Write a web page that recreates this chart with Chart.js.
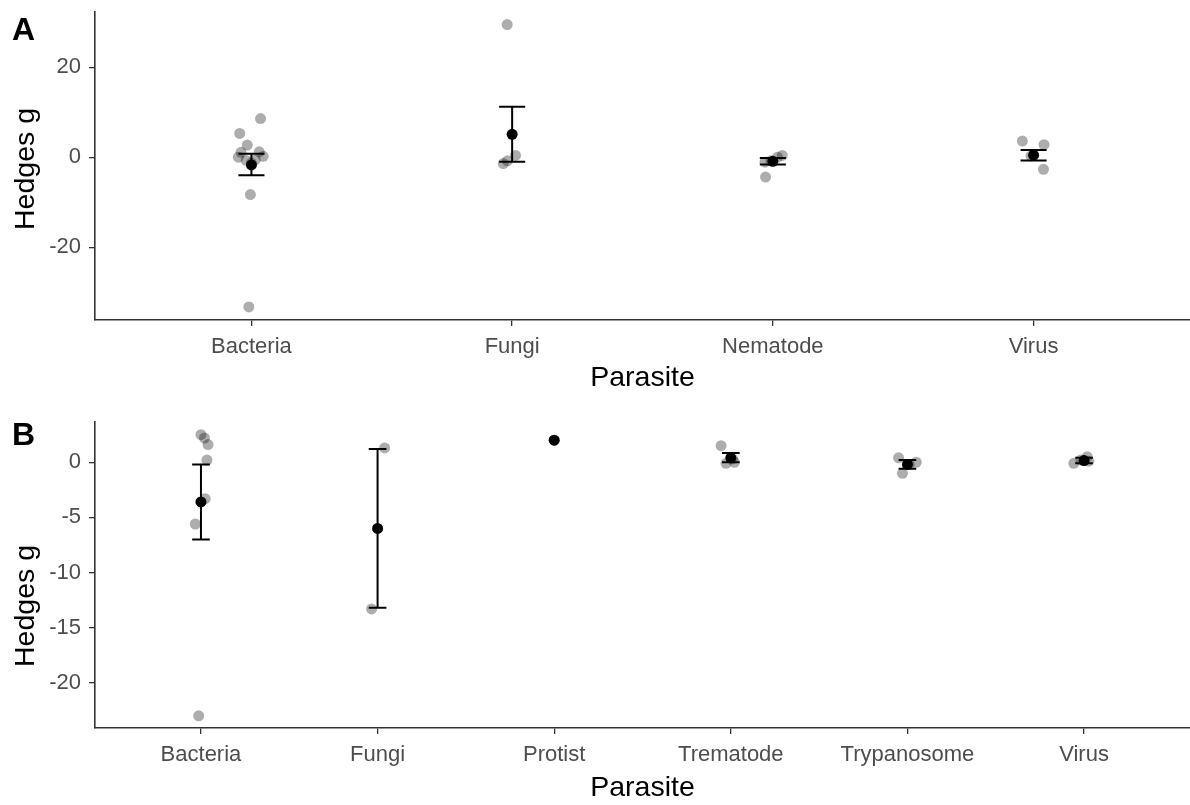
<!DOCTYPE html>
<html>
<head>
<meta charset="utf-8">
<script src="https://cdn.jsdelivr.net/npm/chart.js@4.4.1/dist/chart.umd.min.js"></script>
<style>
  html, body { margin: 0; padding: 0; background: #fff; }
  #wrap { position: relative; width: 1190px; height: 805px; }
  .panel { position: absolute; left: 0; width: 1190px; }
  .tag { position: absolute; left: 12px; font: bold 32px "Liberation Sans", Arial, sans-serif; line-height: 1; color: #000; }
</style>
</head>
<body>
<div id="wrap">
  <div class="panel" style="top:0;height:400px"><canvas id="chartA" width="1190" height="400"></canvas></div>
  <div class="panel" style="top:400px;height:405px"><canvas id="chartB" width="1190" height="405"></canvas></div>
  <div class="tag" style="top:13px">A</div>
  <div class="tag" style="top:418px">B</div>
</div>
<script>
// ---- Panel A data ----
const catsA = ['Bacteria', 'Fungi', 'Nematode', 'Virus'];
// individual effect sizes: category index, horizontal jitter, Hedges g
const ptCatA = [0, 0, 0, 0, 0, 0, 0, 0, 0, 0, 0, 0, 1, 1, 1, 1, 2, 2, 2, 2, 2, 3, 3, 3, 3];
const ptJitA = [0.035, -0.045, -0.016, -0.04, 0.03, -0.05, 0.045, -0.02, 0.015, 0.0, -0.004, -0.01,
                -0.019, -0.034, -0.018, 0.013,
                -0.028, 0.036, -0.008, 0.018, -0.03,
                -0.043, 0.04, 0.038, -0.01];
const ptValA = [8.6, 5.3, 2.7, 1.1, 1.2, 0.0, 0.2, -0.7, -0.6, -1.3, -8.3, -33.3,
                29.5, -1.4, -0.8, 0.4,
                -4.4, 0.4, -0.8, 0.0, -1.1,
                3.6, 2.8, -2.7, 0.3];
const meanA = [-1.7, 5.1, -0.9, 0.45];
const lowA = [-4.0, -1.0, -1.6, -0.7];
const highA = [0.8, 11.2, -0.15, 1.6];
const yTicksA = [-20, 0, 20];
const yRangeA = [-36.2, 32.3];

// ---- Panel B data ----
const catsB = ['Bacteria', 'Fungi', 'Protist', 'Trematode', 'Trypanosome', 'Virus'];
const ptCatB = [0, 0, 0, 0, 0, 0, 0, 1, 1, 2, 3, 3, 3, 3, 4, 4, 4, 4, 5, 5, 5, 5];
const ptJitB = [0.0, 0.02, 0.04, 0.034, 0.024, -0.032, -0.013,
                0.04, -0.034,
                0.0,
                -0.055, -0.027, 0.02, 0.01,
                -0.05, 0.05, -0.028, 0.01,
                -0.058, 0.018, -0.018, 0.027];
const ptValB = [2.5, 2.2, 1.6, 0.2, -3.3, -5.6, -23.0,
                1.3, -13.3,
                2.0,
                1.5, -0.1, 0.0, 0.3,
                0.4, 0.0, -1.0, -0.2,
                -0.1, 0.5, 0.2, 0.1];
const meanB = [-3.6, -6.0, 2.0, 0.4, -0.2, 0.15];
const lowB = [-7.0, -13.2, null, 0.0, -0.6, -0.1];
const highB = [-0.2, 1.2, null, 0.85, 0.2, 0.4];
const yTicksB = [-20, -15, -10, -5, 0];
const yRangeB = [-24.1, 3.65];

const FONT = '"Liberation Sans", Arial, sans-serif';
const AXIS = '#333333';

// mean ± SE bars, drawn right after the jittered points so the mean dot sits on top
const errorBars = {
  id: 'errorBars',
  afterDatasetDraw(chart, args, opts) {
    if (args.index !== 1) return;
    const { ctx, scales: { x, y } } = chart;
    ctx.save();
    ctx.strokeStyle = '#000';
    ctx.lineWidth = 2;
    opts.low.forEach((lo, i) => {
      const hi = opts.high[i];
      if (lo == null || hi == null) return;
      const cx = x.getPixelForValue(i + 1);
      const x0 = x.getPixelForValue(i + 1 - opts.cap / 2);
      const x1 = x.getPixelForValue(i + 1 + opts.cap / 2);
      const yl = y.getPixelForValue(lo);
      const yh = y.getPixelForValue(hi);
      ctx.beginPath();
      ctx.moveTo(cx, yl); ctx.lineTo(cx, yh);
      ctx.moveTo(x0, yl); ctx.lineTo(x1, yl);
      ctx.moveTo(x0, yh); ctx.lineTo(x1, yh);
      ctx.stroke();
    });
    ctx.restore();
  }
};

// rotated y-axis title, centred on the plot area plus a small shift
const yTitle = {
  id: 'yTitle',
  afterDraw(chart, args, opts) {
    const { ctx, chartArea } = chart;
    ctx.save();
    ctx.translate(opts.x, (chartArea.top + chartArea.bottom) / 2 + opts.dy);
    ctx.rotate(-Math.PI / 2);
    ctx.font = '28.5px ' + FONT;
    ctx.fillStyle = '#000';
    ctx.textAlign = 'center';
    ctx.textBaseline = 'middle';
    ctx.fillText(opts.text, 0, 0);
    ctx.restore();
  }
};

function makePanel(id, cats, ptCat, ptJit, ptVal, mean, low, high, yTicks, yRange, padTop, xHeight, titleBottom, titleShift) {
  const points = ptVal.map((v, k) => ({ x: ptCat[k] + 1 + ptJit[k], y: v }));
  const means = mean.map((v, i) => ({ x: i + 1, y: v }));
  return new Chart(document.getElementById(id), {
    type: 'scatter',
    data: {
      datasets: [
        { label: 'mean', data: means, backgroundColor: '#000', borderWidth: 0, pointRadius: 5.5 },
        { label: 'effect', data: points, backgroundColor: 'rgba(0,0,0,0.32)', borderWidth: 0, pointRadius: 5.5 }
      ]
    },
    options: {
      responsive: false,
      animation: false,
      events: [],
      layout: { autoPadding: false, padding: { top: padTop, left: 0, right: 0, bottom: 0 } },
      plugins: {
        legend: { display: false },
        tooltip: { enabled: false },
        errorBars: { low: low, high: high, cap: 0.1 },
        yTitle: { text: 'Hedges g', x: 26, dy: titleShift }
      },
      scales: {
        x: {
          type: 'linear',
          min: 0.4,
          max: cats.length + 0.6,
          afterBuildTicks: (s) => { s.ticks = cats.map((c, i) => ({ value: i + 1 })); },
          afterFit: (s) => { s.height = xHeight; s.paddingLeft = 0; s.paddingRight = 0; },
          grid: { drawOnChartArea: false, drawTicks: true, tickLength: 6, color: AXIS, lineWidth: 1.3 },
          border: { display: true, color: AXIS, width: 1.6 },
          ticks: {
            autoSkip: false, maxRotation: 0, padding: 8,
            color: '#4d4d4d', font: { family: FONT, size: 22 },
            callback: (v) => cats[Math.round(v) - 1]
          },
          title: {
            display: true, text: 'Parasite', color: '#000',
            font: { family: FONT, size: 28.5 }, padding: { top: 0, bottom: titleBottom }
          }
        },
        y: {
          min: yRange[0],
          max: yRange[1],
          afterBuildTicks: (s) => { s.ticks = yTicks.map((v) => ({ value: v })); },
          afterFit: (s) => { s.width = 95; s.paddingTop = 0; s.paddingBottom = 0; },
          grid: { drawOnChartArea: false, drawTicks: true, tickLength: 6, color: AXIS, lineWidth: 1.3 },
          border: { display: true, color: AXIS, width: 1.6 },
          ticks: { padding: 8, color: '#4d4d4d', font: { family: FONT, size: 22 } },
          title: { display: false }
        }
      }
    },
    plugins: [errorBars, yTitle]
  });
}

makePanel('chartA', catsA, ptCatA, ptJitA, ptValA, meanA, lowA, highA, yTicksA, yRangeA, 12, 80, 5, 3);
makePanel('chartB', catsB, ptCatB, ptJitB, ptValB, meanB, lowB, highB, yTicksB, yRangeB, 22, 77, 0, 31);
</script>
</body>
</html>
